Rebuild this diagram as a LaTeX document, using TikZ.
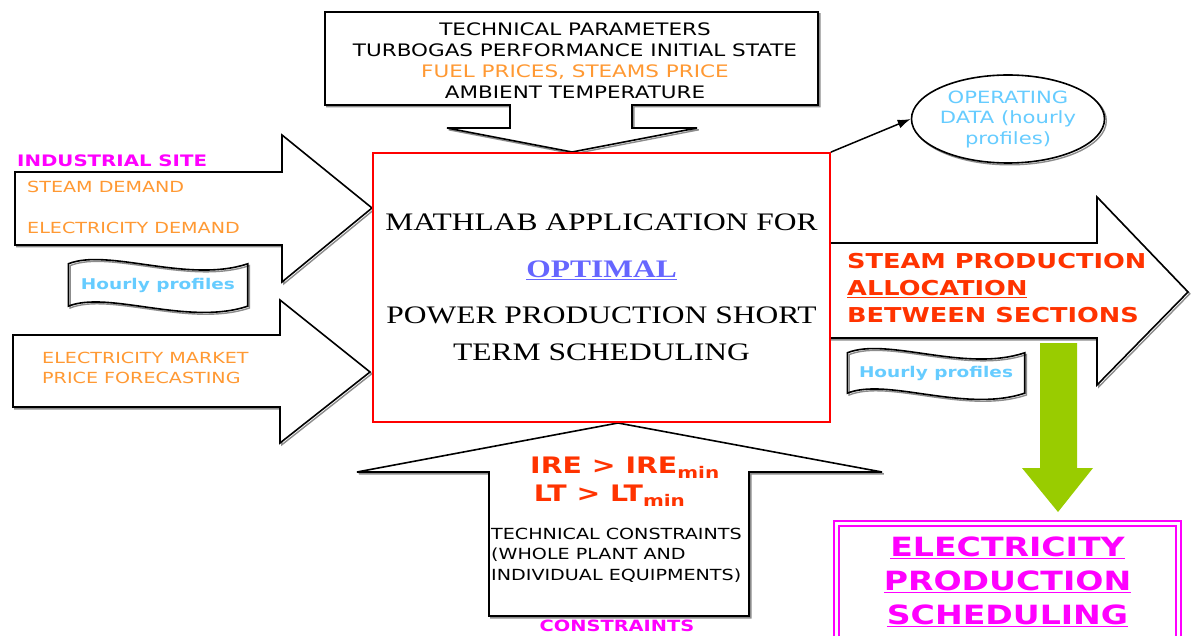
\documentclass[tikz,border=0pt]{standalone}
\usepackage{fontspec}
\setmainfont{DejaVu Sans}[FakeStretch=1.25]
\newfontfamily\serifwide{Liberation Serif}[FakeStretch=1.25]
\usepackage{xcolor}
\usetikzlibrary{arrows.meta,shapes.geometric}
\definecolor{lineorange}{HTML}{FF9933}
\definecolor{skyblue}{HTML}{66CCFF}
\definecolor{hotmagenta}{HTML}{FF00FF}
\definecolor{redorange}{HTML}{FF3300}
\definecolor{optblue}{HTML}{6666FF}
\definecolor{limegreen}{HTML}{99CC00}

\begin{document}
\begin{tikzpicture}[x=1pt,y=-1pt,
  blk/.style={draw,line width=1.6pt,fill=white,
    preaction={draw=black!45,line width=1.4pt,transform canvas={xshift=1.8pt,yshift=-1.8pt}}},
  wave/.style={blk,fill=none},
  lbl/.style={inner sep=0pt,anchor=west,align=left},
  small/.style={font=\fontsize{15.3}{20.5}\selectfont},
  hourly/.style={inner sep=0pt,minimum width=179pt,minimum height=42pt,text=skyblue,font=\bfseries\fontsize{14.8}{18}\selectfont},
  arr/.style={-{Latex[length=13pt,width=9pt]},line width=1.5pt}]
\clip (0,0) rectangle (1194,636);
\fill[white] (0,0) rectangle (1194,636);
% inputs (block arrows)
\draw[blk] (325,12) -- (818,12) -- (818,105) -- (632,105) -- (632,128) -- (697,128) -- (572,152) -- (447,128) -- (510,128) -- (510,105) -- (325,105) -- cycle;
\draw[blk] (15,172) -- (282,172) -- (282,135) -- (372,208) -- (282,282) -- (282,245) -- (15,245) -- cycle;
\draw[blk] (13,335) -- (280,335) -- (280,300) -- (370,372) -- (280,443) -- (280,407) -- (13,407) -- cycle;
\draw[blk] (618,423) -- (882,472) -- (749,472) -- (749,616) -- (489,616) -- (489,472) -- (357,472) -- cycle;
% output
\draw[blk] (830,243) -- (1097,243) -- (1097,197) -- (1188,292) -- (1097,385) -- (1097,338) -- (830,338) -- cycle;
\fill[limegreen] (1040,343) -- (1077,343) -- (1077,468) -- (1093,468) -- (1058,512) -- (1022,468) -- (1040,468) -- cycle;
\node[align=center,inner sep=0pt,font=\fontsize{17.2}{21}\selectfont] (params) at (575,61)
  {TECHNICAL PARAMETERS\\TURBOGAS PERFORMANCE INITIAL STATE\\\textcolor{lineorange}{FUEL PRICES, STEAMS PRICE}\\AMBIENT TEMPERATURE};
\node[lbl,text=hotmagenta,font=\bfseries\fontsize{15.8}{18}\selectfont] (site) at (17,161) {INDUSTRIAL SITE};
\node[lbl,small,text=lineorange] (steam) at (27,187) {STEAM DEMAND};
\node[lbl,small,text=lineorange] (elec) at (27,228) {ELECTRICITY DEMAND};
\node[lbl,small,text=lineorange] (market) at (42,368) {ELECTRICITY MARKET\\PRICE FORECASTING};
\node[hourly] (hpleft) at (158,285) {Hourly profiles};
\draw[wave] (hpleft.north west) .. controls +(40,-16) and +(-60,20) .. (hpleft.north east) -- (hpleft.south east)
  .. controls +(-60,20) and +(40,-16) .. (hpleft.south west) -- cycle;
\node[lbl,text=redorange,font=\bfseries\fontsize{20.5}{27}\selectfont] (alloc) at (847,288)
  {STEAM PRODUCTION\\\underline{ALLOCATION}\\BETWEEN SECTIONS};
\node[hourly,minimum width=177pt,minimum height=40pt] (hpright) at (936,373) {Hourly profiles};
\draw[wave] (hpright.north west) .. controls +(40,-16) and +(-60,20) .. (hpright.north east) -- (hpright.south east)
  .. controls +(-60,20) and +(40,-16) .. (hpright.south west) -- cycle;
\node[lbl,text=redorange,font=\bfseries\fontsize{22.7}{28}\selectfont] (limits) at (530,482)
  {IRE > IRE\raisebox{-5pt}{\fontsize{16}{16}\selectfont min}\\\,LT > LT\raisebox{-5pt}{\fontsize{16}{16}\selectfont min}};
\node[lbl,small] (tech) at (491,555) {TECHNICAL CONSTRAINTS\\(WHOLE PLANT AND\\INDIVIDUAL EQUIPMENTS)};
\node[inner sep=0pt,text=hotmagenta,font=\bfseries\fontsize{15.5}{18}\selectfont] (constr) at (617,626) {CONSTRAINTS};
% core
\node[draw=red,line width=1.8pt,fill=white,minimum width=457pt,minimum height=269pt,align=center,inner sep=0pt,
  font=\serifwide\fontsize{25.2}{37}\selectfont] (main) at (601.5,287.5)
  {MATHLAB APPLICATION FOR\\[10pt]\textcolor{optblue}{\textbf{\underline{OPTIMAL}}}\\[9pt]POWER PRODUCTION SHORT\\TERM SCHEDULING};
\node[ellipse,blk,minimum width=193pt,minimum height=88pt,inner sep=0pt,align=center,text=skyblue,
  font=\fontsize{16.9}{20.5}\selectfont] (opdata) at (1008,119) {OPERATING\\DATA (hourly\\profiles)};
\draw[arr] (main.north east) -- (opdata.west);
\node[draw=hotmagenta,line width=1.8pt,double=white,double distance=3.5pt,minimum width=342pt,minimum height=117pt,
  align=center,inner sep=0pt,text=hotmagenta,font=\bfseries\fontsize{26.5}{34}\selectfont] (sched) at (1007.5,582)
  {\underline{ELECTRICITY}\\\underline{PRODUCTION}\\\underline{SCHEDULING}};
\end{tikzpicture}
\end{document}
